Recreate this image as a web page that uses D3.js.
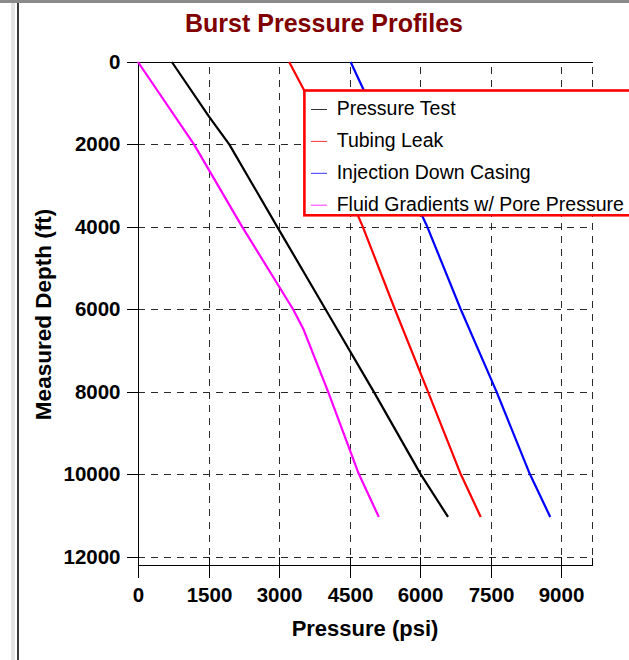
<!DOCTYPE html>
<html>
<head>
<meta charset="utf-8">
<script src="https://cdn.jsdelivr.net/npm/d3@7"></script>
<style>
  html, body { margin: 0; padding: 0; background: #fff; }
  svg { display: block; font-family: "Liberation Sans", Arial, sans-serif; }
</style>
</head>
<body>
<svg id="chart" width="629" height="660"></svg>
<script>
// Burst pressure profiles: pressure (psi) against measured depth (ft)
const pressureTicks = [0, 1500, 3000, 4500, 6000, 7500, 9000];
const depthTicks = [0, 2000, 4000, 6000, 8000, 10000, 12000];

const seriesNames = ["Pressure Test", "Tubing Leak", "Injection Down Casing", "Fluid Gradients w/ Pore Pressure"];
const seriesColors = ["#000000", "#ff0000", "#0000ff", "#ff00ff"];

// [pressure psi, depth ft]
const pressureTest = [[720, 0], [1510, 1325], [1940, 2000], [2960, 4000], [3985, 6000], [5010, 8000], [6007, 10000], [6590, 11040]];
const tubingLeak = [[3213, 0], [3520, 660], [4779, 4000], [5460, 6000], [6163, 8000], [6859, 10000], [7285, 11040]];
const injectionDownCasing = [[4520, 0], [6149, 4000], [6859, 6000], [7620, 8000], [8329, 10000], [8762, 11040]];
const fluidGradients = [[0, 0], [1190, 2000], [2215, 4000], [3296, 6000], [3522, 6500], [4040, 8000], [4694, 10000], [5119, 11040]];

const seriesData = [pressureTest, tubingLeak, injectionDownCasing, fluidGradients];

const svg = d3.select("#chart");

// window frame
svg.append("rect").attr("x", 0).attr("y", 0).attr("width", 629).attr("height", 3).attr("fill", "#8a8a8a");
svg.append("rect").attr("x", 11).attr("y", 3).attr("width", 4).attr("height", 657).attr("fill", "#e4e4e4");
svg.append("rect").attr("x", 17).attr("y", 3).attr("width", 2).attr("height", 657).attr("fill", "#3a3a3a");

const plotLeft = 138, plotRight = 592, plotTop = 62, plotBottom = 556.5, axisY = 565;

const x = d3.scaleLinear().domain([0, 9650]).range([plotLeft, plotRight]);
const y = d3.scaleLinear().domain([0, 12000]).range([plotTop, plotBottom]);

const g = svg.append("g");

// dashed grid
const grid = g.append("g").attr("stroke", "#2a2a2a").attr("stroke-width", 1)
  .attr("stroke-dasharray", "7,6").attr("shape-rendering", "crispEdges");
grid.selectAll("line.v").data(pressureTicks.slice(1).concat([x.domain()[1]])).join("line")
  .attr("class", "v")
  .attr("x1", d => Math.round(x(d)) + 0.5).attr("x2", d => Math.round(x(d)) + 0.5)
  .attr("y1", plotTop + 5).attr("y2", plotBottom);
grid.selectAll("line.h").data(depthTicks.slice(1)).join("line")
  .attr("class", "h")
  .attr("x1", plotLeft).attr("x2", plotRight + 0.5)
  .attr("y1", d => Math.round(y(d)) + 0.5).attr("y2", d => Math.round(y(d)) + 0.5);

// frame lines
const frame = g.append("g").attr("stroke", "#000").attr("stroke-width", 1).attr("shape-rendering", "crispEdges");
frame.append("line").attr("x1", plotLeft + 0.5).attr("x2", plotRight + 0.5).attr("y1", plotTop + 0.5).attr("y2", plotTop + 0.5);
frame.append("line").attr("x1", plotRight + 0.5).attr("x2", plotRight + 0.5).attr("y1", Math.round(plotBottom) + 0.5).attr("y2", axisY + 0.5);
frame.append("line").attr("x1", plotLeft + 0.5).attr("x2", plotLeft + 0.5).attr("y1", plotTop).attr("y2", axisY);
frame.selectAll("line.stub").data(pressureTicks.slice(1)).join("line")
  .attr("class", "stub")
  .attr("x1", d => Math.round(x(d)) + 0.5).attr("x2", d => Math.round(x(d)) + 0.5)
  .attr("y1", Math.round(plotBottom)).attr("y2", axisY);

// left axis
const yAxis = d3.axisLeft(y).tickValues(depthTicks).tickSize(12).tickPadding(6).tickFormat(d3.format("d"));
const ya = g.append("g").attr("transform", `translate(${plotLeft + 0.5},0)`).call(yAxis);
ya.select(".domain").remove();
ya.selectAll(".tick line").attr("stroke", "#000").attr("shape-rendering", "crispEdges");
ya.selectAll(".tick").attr("transform", d => `translate(0,${Math.round(y(d)) + 0.5})`);
ya.selectAll(".tick text").attr("font-size", "20.5px").attr("font-weight", "bold")
  .attr("font-family", "'Liberation Sans', Arial, sans-serif").attr("fill", "#000");

// bottom axis
const xAxis = d3.axisBottom(x).tickValues(pressureTicks).tickSize(12).tickPadding(10).tickFormat(d3.format("d"));
const xa = g.append("g").attr("transform", `translate(0,${axisY + 0.5})`).call(xAxis);
xa.select(".domain").attr("d", `M${plotLeft},0H${plotRight + 1}`).attr("stroke", "#000").attr("shape-rendering", "crispEdges");
xa.selectAll(".tick").attr("transform", d => `translate(${Math.round(x(d)) + 0.5},0)`);
xa.selectAll(".tick line").attr("stroke", "#000").attr("shape-rendering", "crispEdges");
xa.selectAll(".tick text").attr("font-size", "20.5px").attr("font-weight", "bold")
  .attr("font-family", "'Liberation Sans', Arial, sans-serif").attr("fill", "#000");

// series
const line = d3.line().x(d => x(d[0])).y(d => y(d[1]));
g.append("g").selectAll("path").data(seriesData).join("path")
  .attr("d", line)
  .attr("fill", "none")
  .attr("stroke", (d, i) => seriesColors[i])
  .attr("stroke-width", 2.2)
  .attr("stroke-linejoin", "round");

// legend
const legend = svg.append("g");
legend.append("rect")
  .attr("x", 304.4).attr("y", 90.5).attr("width", 340).attr("height", 124.8)
  .attr("fill", "#fff").attr("stroke", "#ff0000").attr("stroke-width", 2.6);
const rows = legend.selectAll("g.row").data(seriesNames).join("g")
  .attr("class", "row")
  .attr("transform", (d, i) => `translate(0,${115 + i * 31.9})`);
rows.append("line")
  .attr("x1", 311).attr("x2", 327).attr("y1", -5.5).attr("y2", -5.5)
  .attr("stroke", (d, i) => seriesColors[i]).attr("stroke-width", 1).attr("opacity", 0.8);
rows.append("text")
  .attr("x", 336.7).attr("y", 0)
  .attr("font-size", "19.5px").attr("fill", "#000")
  .text(d => d);

// titles
svg.append("text").attr("x", 324).attr("y", 31.5).attr("text-anchor", "middle")
  .attr("font-size", "25px").attr("font-weight", "bold").attr("fill", "#800000")
  .text("Burst Pressure Profiles");
svg.append("text").attr("x", (plotLeft + plotRight) / 2).attr("y", 636).attr("text-anchor", "middle")
  .attr("font-size", "22px").attr("font-weight", "bold").attr("fill", "#000")
  .text("Pressure (psi)");
svg.append("text").attr("transform", `translate(51,${(plotTop + axisY) / 2 + 1}) rotate(-90)`).attr("text-anchor", "middle")
  .attr("font-size", "22.5px").attr("font-weight", "bold").attr("fill", "#000")
  .text("Measured Depth (ft)");
</script>
</body>
</html>
